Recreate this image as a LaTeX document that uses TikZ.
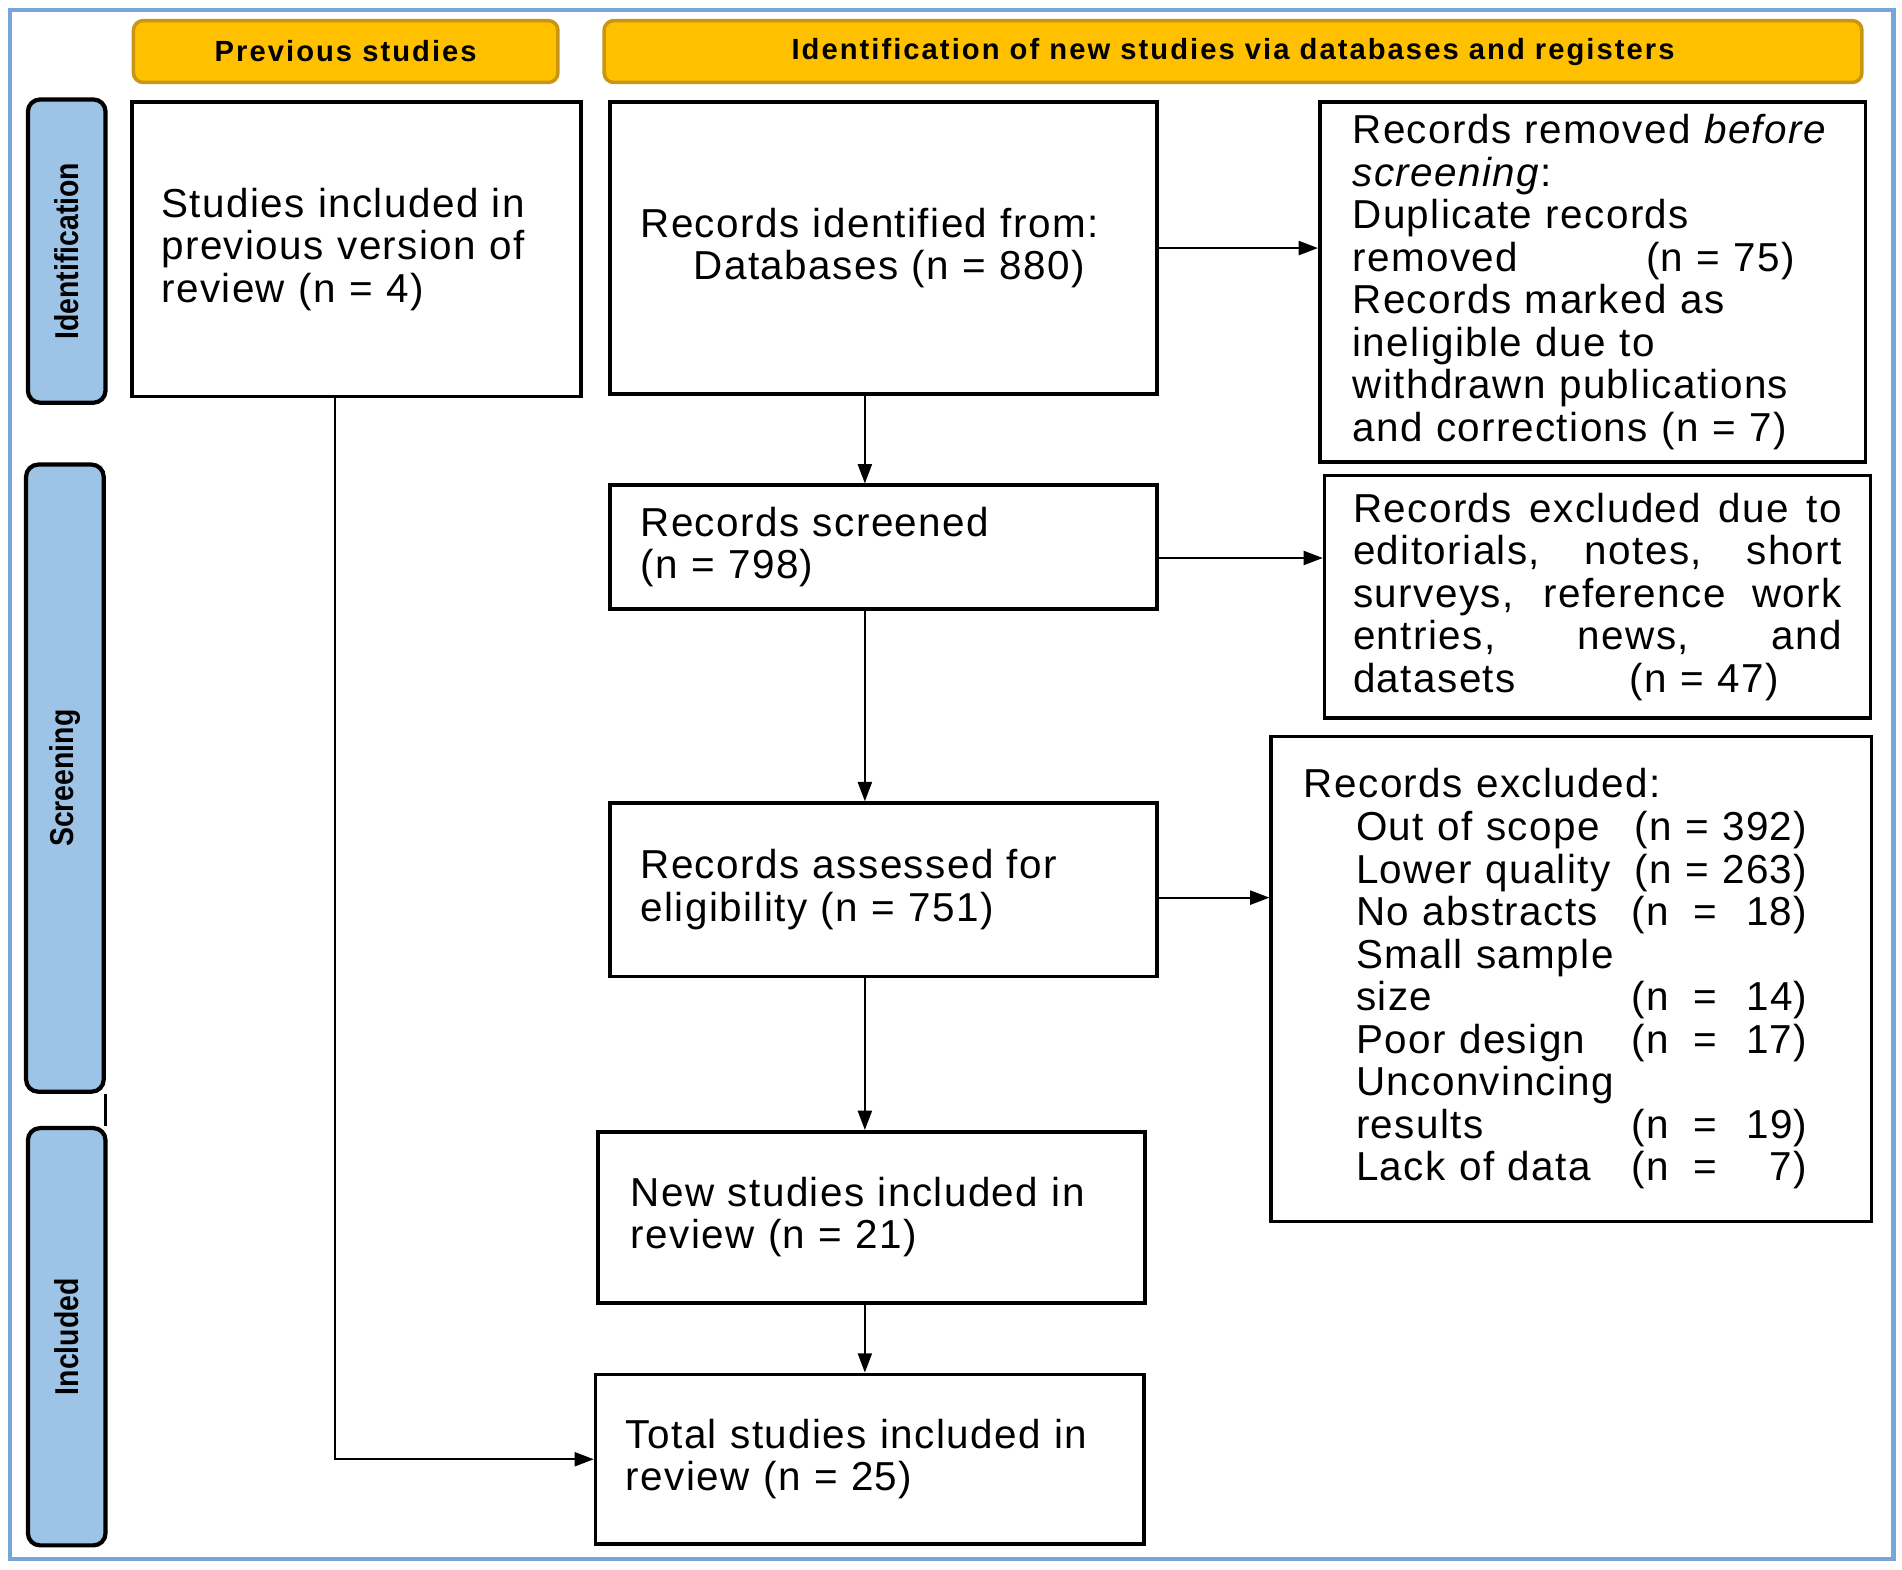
\documentclass[tikz,border=0pt]{standalone}
\usepackage{fontspec}
\setmainfont{Liberation Sans}[LetterSpace=3.5]
\newfontfamily\headfont{Liberation Sans}[LetterSpace=7]
\newfontfamily\sidefont{Liberation Sans}
\usepackage{graphicx}
\usetikzlibrary{arrows.meta}

\definecolor{headgold}{RGB}{255,192,0}
\definecolor{headedge}{RGB}{200,150,20}
\definecolor{sideblue}{RGB}{157,195,230}
\definecolor{framebl}{RGB}{120,165,215}

% one unit of the layout grid
\newlength\pu
\setlength\pu{0.01213cm}
\newcommand{\cnt}[1]{\makebox[48\pu][l]{(n}\makebox[26\pu][c]{=}\makebox[71\pu][r]{#1)}}
\newcommand{\why}[2]{\hspace*{43\pu}\makebox[227\pu][l]{#1}\makebox[145\pu][r]{#2}}
\newcommand{\spread}[1]{\makebox[403\pu][s]{\spaceskip=.3333em plus 1fil #1}}
\newcommand{\sidetext}[1]{\rotatebox{90}{\scalebox{0.86}[1]{\sidefont\bfseries\fontsize{9.4}{10}\selectfont #1}}}

\begin{document}
\begin{tikzpicture}[x=0.01213cm, y=-0.01213cm,
  box/.style={draw, line width=1pt, inner ysep=0pt, align=left, font=\fontsize{11.5}{12.1}\selectfont},
  head/.style={draw=headedge, fill=headgold, line width=1pt, rounded corners=8\pu, minimum height=51\pu, font=\headfont\bfseries\fontsize{8.3}{9}\selectfont},
  side/.style={draw, fill=sideblue, line width=1.2pt, rounded corners=10\pu, minimum width=64\pu, inner sep=0pt},
  flow/.style={line width=0.6pt, -{Triangle[length=5.5pt, width=4pt]}}]
  \useasboundingbox (0,0) rectangle (1568,1293.5);
  \draw[framebl, line width=1.2pt] (8,8) rectangle (1561,1285);

  % headings and phases
  \node[head, minimum width=350\pu] (prevhead) at (285,42.5) {Previous studies};
  \node[head, minimum width=1037\pu] (newhead) at (1016.5,42.5) {Identification of new studies via databases and registers};
  \node[side, minimum height=250\pu] (idlab) at (55,207) {\sidetext{Identification}};
  \node[side, minimum height=517\pu] (scrlab) at (53.5,641.5) {\sidetext{Screening}};
  \node[side, minimum height=344\pu] (inclab) at (55,1102) {\sidetext{Included}};
  \draw[line width=0.8pt] (scrlab.south east) -- (scrlab.south east |- inclab.north);

  % boxes
  \node[box, text width=322\pu, inner xsep=24\pu, minimum height=243\pu] (prev) at (294,205.5)
    {Studies included in\\previous version of\\review (n = 4)};
  \node[box, text width=401\pu, inner xsep=25\pu, minimum height=241\pu] (ident) at (728.5,204.5)
    {Records identified from:\\\hspace*{44\pu}Databases (n = 880)};
  \node[box, text width=396\pu, inner xsep=27\pu, minimum height=297\pu] (removed) at (1313,232.5)
    {Records removed \textit{before}\\\textit{screening}:\\Duplicate records\\\makebox[242\pu][l]{removed}(n = 75)\\Records marked as\\ineligible due to\\withdrawn publications\\and corrections (n = 7)};
  \node[box, text width=401\pu, inner xsep=25\pu, minimum height=102\pu] (screened) at (728.5,451)
    {Records screened\\(n = 798)};
  \node[box, text width=403\pu, inner xsep=23.5\pu, minimum height=200\pu] (excl1) at (1317,492)
    {\spread{Records excluded due to}\\\spread{editorials, notes, short}\\\spread{surveys, reference work}\\\spread{entries, news, and}\\\makebox[228\pu][l]{datasets}(n = 47)};
  \node[box, text width=401\pu, inner xsep=25\pu, minimum height=143\pu] (assessed) at (728.5,733.5)
    {Records assessed for\\eligibility (n = 751)};
  \node[box, text width=441\pu, inner xsep=27\pu, minimum height=400\pu] (excl2) at (1295.5,807)
    {Records excluded:\\\why{Out of scope}{(n = 392)}\\\why{Lower quality}{(n = 263)}\\\why{No abstracts}{\cnt{18}}\\\hspace*{43\pu}Small sample\\\why{size}{\cnt{14}}\\\why{Poor design}{\cnt{17}}\\\hspace*{43\pu}Unconvincing\\\why{results}{\cnt{19}}\\\why{Lack of data}{\cnt{7}}};
  \node[box, text width=397\pu, inner xsep=27\pu, minimum height=141\pu] (new) at (718.5,1003.5)
    {New studies included in\\review (n = 21)};
  \node[box, text width=402\pu, inner xsep=25\pu, minimum height=140\pu] (total) at (717,1203)
    {Total studies included in\\review (n = 25)};

  % connectors
  \coordinate (spine) at (713,0);
  \coordinate (drop) at (276,0);
  \coordinate (s1) at ([yshift=-9\pu]screened.east);
  \coordinate (s2) at ([yshift=-6.5\pu]assessed.east);
  \draw[flow] (ident.south -| spine) -- (screened.north -| spine);
  \draw[flow] (screened.south -| spine) -- (assessed.north -| spine);
  \draw[flow] (assessed.south -| spine) -- (new.north -| spine);
  \draw[flow] (new.south -| spine) -- (total.north -| spine);
  \draw[flow] (ident.east) -- (ident.east -| removed.west);
  \draw[flow] (s1) -- (s1 -| excl1.west);
  \draw[flow] (s2) -- (s2 -| excl2.west);
  \draw[flow] (prev.south -| drop) |- (total.west);
\end{tikzpicture}
\end{document}
